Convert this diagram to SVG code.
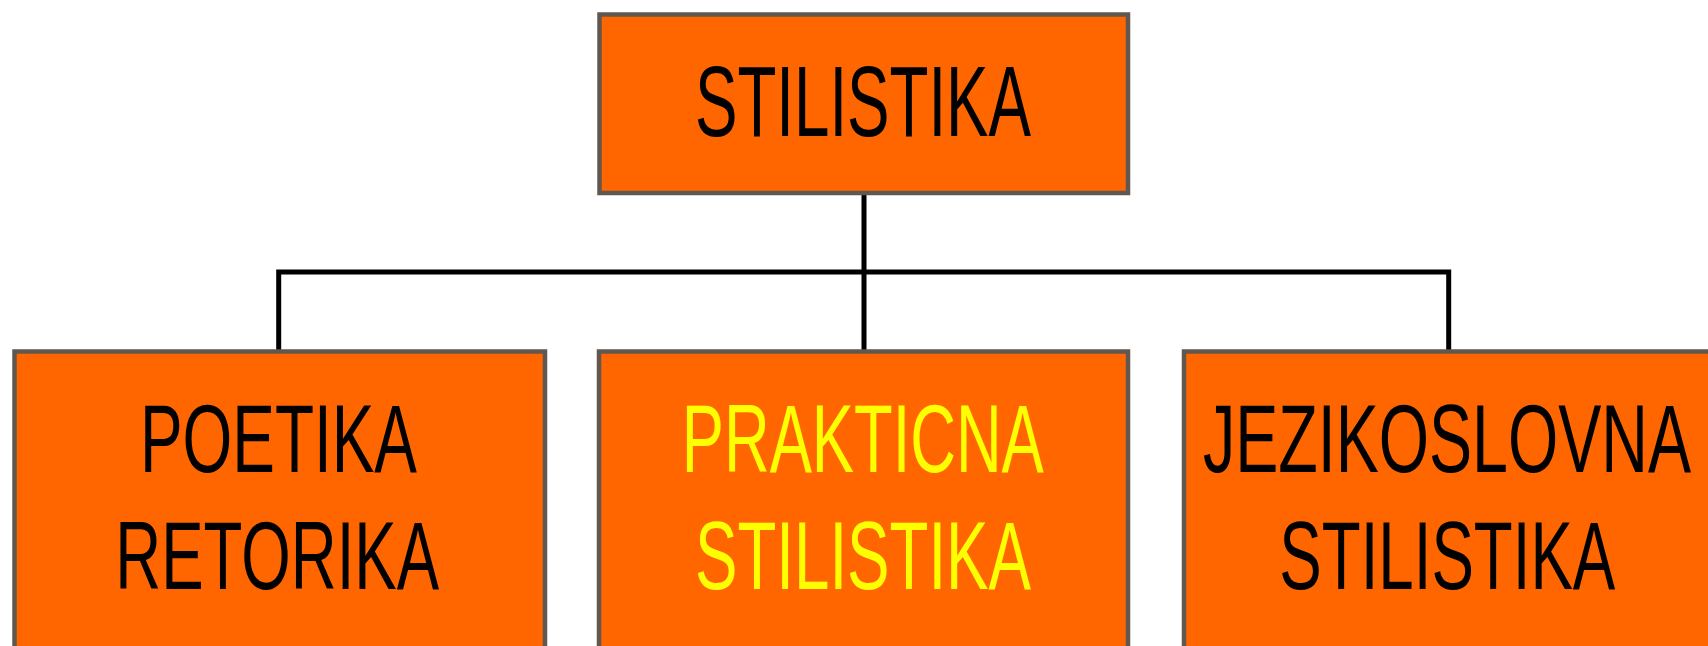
<svg xmlns="http://www.w3.org/2000/svg" width="1708" height="646" viewBox="0 0 1708 646">
<style>
.box{fill:#FF6600;stroke:#605850;stroke-width:4.5}
.lbl{font-family:"Liberation Sans",Arial,sans-serif;text-anchor:middle}
.blk{fill:#000000}
.yel{fill:#FFFF00}
.conn{stroke:#000000;stroke-width:5;fill:none}
</style>
<rect width="1708" height="646" fill="#FFFFFF"/>
<g id="connectors">
<line class="conn" x1="864" y1="193" x2="864" y2="352"/>
<polyline class="conn" points="278.7,352 278.7,272 1448.7,272 1448.7,352"/>
</g>
<g id="node-stilistika">
<rect class="box" x="599.5" y="14.5" width="528.5" height="178.5"/>
<text class="lbl blk" x="863" y="136" font-size="100" textLength="336" lengthAdjust="spacingAndGlyphs">STILISTIKA</text>
</g>
<g id="node-poetika">
<rect class="box" x="14.5" y="351.5" width="530.5" height="300"/>
<text class="lbl blk" x="278.5" y="472" font-size="97" textLength="277" lengthAdjust="spacingAndGlyphs">POETIKA</text>
<text class="lbl blk" x="277.2" y="589" font-size="97" textLength="324" lengthAdjust="spacingAndGlyphs">RETORIKA</text>
</g>
<g id="node-prakticna">
<rect class="box" x="599" y="351.5" width="529" height="300"/>
<text class="lbl yel" x="862.8" y="472" font-size="97" textLength="362" lengthAdjust="spacingAndGlyphs">PRAKTICNA</text>
<text class="lbl yel" x="863" y="589" font-size="97" textLength="336" lengthAdjust="spacingAndGlyphs">STILISTIKA</text>
</g>
<g id="node-jezikoslovna">
<rect class="box" x="1184" y="351.5" width="530" height="300"/>
<text class="lbl blk" x="1447" y="472" font-size="97" textLength="488" lengthAdjust="spacingAndGlyphs">JEZIKOSLOVNA</text>
<text class="lbl blk" x="1447.3" y="589" font-size="97" textLength="336" lengthAdjust="spacingAndGlyphs">STILISTIKA</text>
</g>
</svg>
